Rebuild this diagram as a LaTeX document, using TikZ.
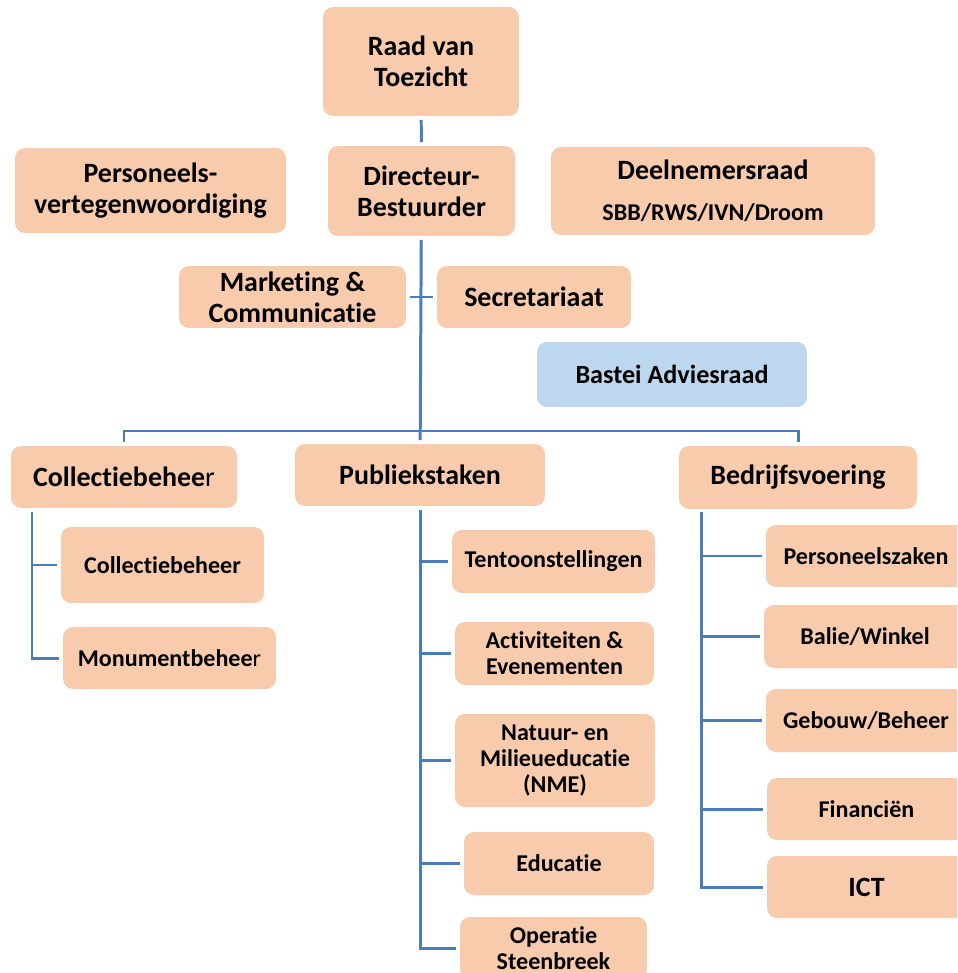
\documentclass[tikz,border=0pt]{standalone}
\usepackage{fontspec}
\setmainfont[Ligatures=NoCommon]{Carlito}
\usepackage{tikz}
\usetikzlibrary{positioning}

\definecolor{peach}{HTML}{F8CBAD}
\definecolor{advblue}{HTML}{BDD7EE}
\definecolor{linkblue}{HTML}{4A7EBB}

\tikzset{
  unit/.style={draw=none, rounded corners=0.2cm, align=center, inner sep=2pt, font=\bfseries\fontsize{15.9}{17.5}\selectfont},
  orgbox/.style={unit, fill=peach},
  subbox/.style={orgbox, font=\bfseries\fontsize{13.7}{14.8}\selectfont},
  advbox/.style={unit, fill=advblue, font=\bfseries\fontsize{14.9}{16}\selectfont},
  link/.style={draw=linkblue, line width=1.7pt}
}

\begin{document}
\begin{tikzpicture}[x=0.02cm, y=-0.02cm]
\clip (0,0) rectangle (957,973);
% top of the organisation
\node[orgbox, minimum width=3.92cm, minimum height=2.18cm] (raad) at (421,61.5) {Raad van\\Toezicht};
\node[orgbox, minimum width=3.74cm, minimum height=1.8cm] (dir) at (421.5,191) {Directeur-\\Bestuurder};
\node[orgbox, minimum width=5.42cm, minimum height=1.7cm] (pers) at (150.5,190.5) {Personeels-\\vertegenwoordiging};
\node[orgbox, minimum width=6.48cm, minimum height=1.76cm] (deel) at (713,191) {Deelnemersraad\\[6pt]{\fontsize{13.7}{14.8}\selectfont SBB/RWS/IVN/Droom}};
\node[orgbox, minimum width=4.54cm, minimum height=1.24cm] (mark) at (292.5,297) {Marketing \&\\Communicatie};
\node[orgbox, minimum width=3.88cm, minimum height=1.24cm] (secr) at (534,297) {Secretariaat};
\node[advbox, minimum width=5.4cm, minimum height=1.3cm] (bast) at (672,374.5) {Bastei Adviesraad};

% departments
\node[orgbox, minimum width=4.52cm, minimum height=1.24cm] (coll) at (124,477) {Collectiebehee{\mdseries r}};
\node[orgbox, minimum width=5cm, minimum height=1.24cm] (pub) at (420,475) {Publiekstaken};
\node[orgbox, minimum width=4.76cm, minimum height=1.26cm] (bedr) at (798,477.5) {Bedrijfsvoering};

% Collectiebeheer
\node[subbox, minimum width=4.06cm, minimum height=1.52cm] (colsub) at (162.5,565) {Collectiebeheer};
\node[subbox, minimum width=4.26cm, minimum height=1.24cm] (mon) at (169.5,658) {Monumentbehee{\mdseries r}};

% Publiekstaken
\node[subbox, minimum width=4.06cm, minimum height=1.26cm] (tent) at (553.5,561.5) {Tentoonstellingen};
\node[subbox, minimum width=3.98cm, minimum height=1.26cm] (act) at (554.5,653.5) {Activiteiten \&\\Evenementen};
\node[subbox, minimum width=4cm, minimum height=1.86cm] (nme) at (555,760.5) {Natuur- en\\Milieueducatie\\(NME)};
\node[subbox, minimum width=3.8cm, minimum height=1.26cm] (edu) at (559,863.5) {Educatie};
\node[subbox, minimum width=3.74cm, minimum height=1.24cm] (ops) at (553.5,948) {Operatie\\Steenbreek};

% Bedrijfsvoering
\node[subbox, minimum width=4cm, minimum height=1.24cm] (pz) at (866,556) {Personeelszaken};
\node[subbox, minimum width=4.04cm, minimum height=1.26cm] (bal) at (865,636.5) {Balie/Winkel};
\node[subbox, minimum width=4cm, minimum height=1.26cm] (geb) at (866,720.5) {Gebouw/Beheer};
\node[subbox, minimum width=3.98cm, minimum height=1.24cm] (fin) at (866.5,809) {Financi\"en};
\node[orgbox, minimum width=3.98cm, minimum height=1.24cm] (ict) at (866.5,887) {ICT};

% lines
\coordinate (bus) at (421,431);
\coordinate (cb) at (32,512);
\coordinate (bb) at (701,512);
\draw[link, shorten <=2pt, shorten >=2pt] (raad) -- (dir);
\draw[link, shorten <=2pt, shorten >=2pt] (dir) -- (pub);
\draw[link, shorten <=2pt, shorten >=2pt] (mark.east) -- (secr.west);
\draw[link, shorten <=2pt, shorten >=2pt] (coll.north) |- (bus) -| (bedr.north);
\draw[link, shorten >=2pt] (cb) |- (mon.west);
\draw[link, shorten >=2pt] (cb |- colsub.west) -- (colsub.west);
\draw[link, shorten <=2pt, shorten >=2pt] (pub.south) |- (ops.west);
\foreach \n in {tent, act, nme, edu}
  \draw[link, shorten >=2pt] (pub.south |- \n.west) -- (\n.west);
\draw[link, shorten >=2pt] (bb) |- (ict.west);
\foreach \n in {pz, bal, geb, fin}
  \draw[link, shorten >=2pt] (bb |- \n.west) -- (\n.west);
\end{tikzpicture}
\end{document}
